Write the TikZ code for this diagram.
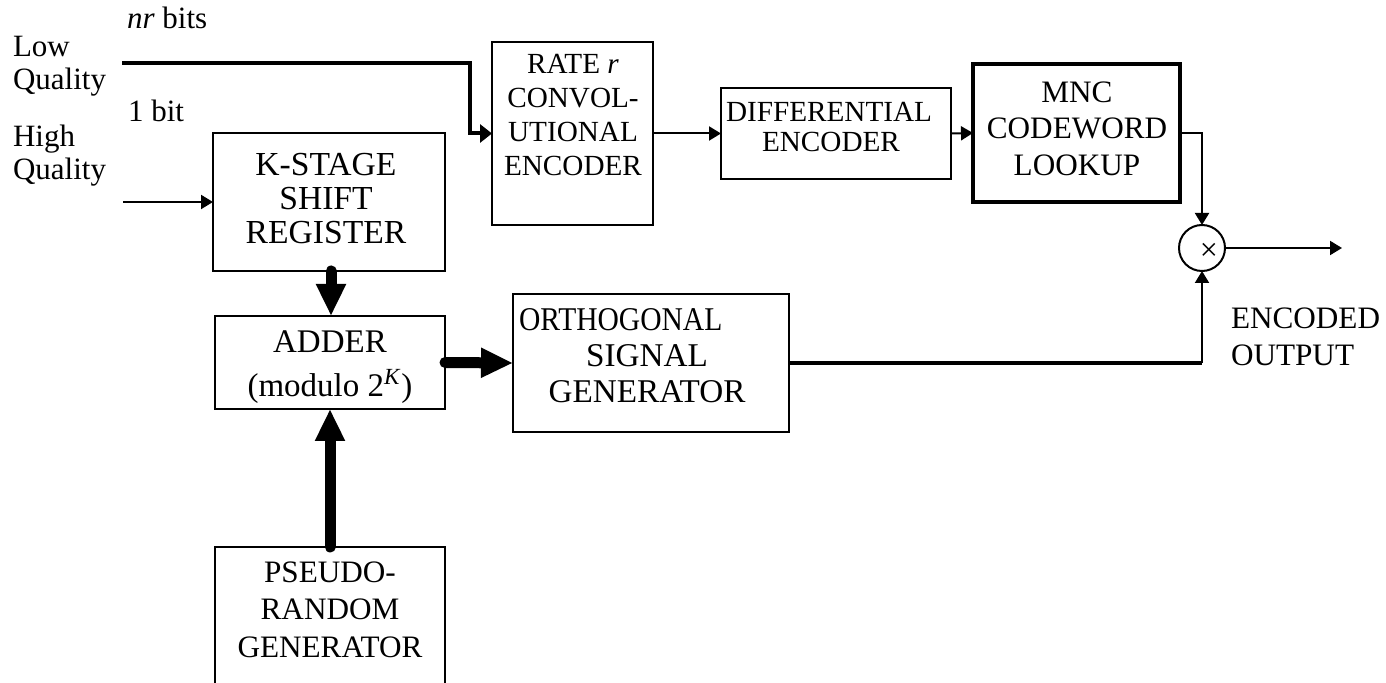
\documentclass[tikz,border=0pt]{standalone}
\usepackage{fontspec}
\setmainfont{Liberation Serif}
\usetikzlibrary{arrows.meta}
\begin{document}
\begin{tikzpicture}[x=0.5pt,y=-0.5pt,
  box/.style={draw, line width=1pt, inner sep=0pt, outer sep=0pt, anchor=north west},
  tl/.style={anchor=base, inner sep=0pt, outer sep=0pt},
  tlw/.style={anchor=base west, inner sep=0pt, outer sep=0pt},
  arr/.style={line width=1pt, -{Triangle[length=6pt,width=7pt]}},
  thk/.style={line width=2pt, -{Triangle[length=6pt,width=9pt]}},
  big/.style={line width=5.5pt, line cap=round, -{Triangle[length=16pt,width=14pt]}},
  fl/.style={font=\fontsize{15.5}{18}\selectfont},
  fk/.style={font=\fontsize{16.8}{18}\selectfont},
  fa/.style={font=\fontsize{16.5}{18}\selectfont},
  fo/.style={font=\fontsize{16.6}{18}\selectfont},
  fp/.style={font=\fontsize{15.6}{18}\selectfont},
  fc/.style={font=\fontsize{14.6}{17}\selectfont},
  fm/.style={font=\fontsize{15.6}{18}\selectfont}]
\useasboundingbox (0,0) rectangle (1386,683);
\clip (0,0) rectangle (1386,683);

% boxes
\node[box, minimum width=116pt, minimum height=69pt] (kst) at (213,133) {};
\node[box, minimum width=115pt, minimum height=46.5pt] (adder) at (215,316) {};
\node[box, minimum width=115pt, minimum height=80pt] (pseudo) at (215,547) {};
\node[box, minimum width=138pt, minimum height=69pt] (ortho) at (513,294) {};
\node[box, minimum width=80.5pt, minimum height=91.5pt] (conv) at (492,42) {};
\node[box, minimum width=115pt, minimum height=45.5pt] (diff) at (721,88) {};
\node[box, line width=2pt, minimum width=103.5pt, minimum height=69pt] (mnc) at (973,64) {};
\node[draw, circle, line width=1pt, minimum size=23pt, inner sep=0pt, outer sep=0pt] (mult) at (1202,248) {};
\node[inner sep=0pt, font=\fontsize{16}{18}\selectfont] (times) at (1209,252) {×};

% input labels
\node[tlw, fl] (nr) at (127,29) {\textit{nr} bits};
\node[tlw, fl] (low) at (13,57) {Low};
\node[tlw, fl] (lq1) at (13,90) {Quality};
\node[tlw, fl] (onebit) at (128,122) {1 bit};
\node[tlw, fl] (high) at (13,147) {High};
\node[tlw, fl] (hq1) at (13,180) {Quality};

% box texts
\node[tl, fk] (k1) at (326,176) {K-STAGE};
\node[tl, fk] (k2) at (326,210) {SHIFT};
\node[tl, fk] (k3) at (326,244) {REGISTER};

\node[tl, fa] (a1) at (330,353) {ADDER};
\node[tl, fa] (a2) at (330,397) {(modulo 2\textsuperscript{\textit{K}})};

\node[tlw, fo] (o1) at (519,331) {\scalebox{0.89}[1]{ORTHOGONAL}};
\node[tl, fo] (o2) at (647,367) {SIGNAL};
\node[tl, fo] (o3) at (647,403) {GENERATOR};

\node[tl, fp] (p1) at (330,582) {PSEUDO-};
\node[tl, fp] (p2) at (330,619) {RANDOM};
\node[tl, fp] (p3) at (330,657) {GENERATOR};

\node[tl, fc] (c1) at (573,74) {RATE \textit{r}};
\node[tl, fc] (c2) at (573,108) {CONVOL-};
\node[tl, fc] (c3) at (573,142) {UTIONAL};
\node[tl, fc] (c4) at (573,176) {ENCODER};

\node[tl, fc] (d1) at (829,122) {DIFFERENTIAL};
\node[tl, fc] (d2) at (831,152) {ENCODER};

\node[tl, fm] (m1) at (1077,103) {MNC};
\node[tl, fm] (m2) at (1077,139) {CODEWORD};
\node[tl, fm] (m3) at (1077,176) {LOOKUP};

\node[tlw, fm] (e1) at (1231,329) {ENCODED};
\node[tlw, fm] (e2) at (1231,366) {OUTPUT};

% connectors
\coordinate (lq) at (122,63);
\coordinate (hq) at (123,202);
\coordinate (out) at (1342,248);
\coordinate (crn) at (ortho.east -| mult.south);

\draw[thk] (lq) -- (470,63) |- (conv.west);
\draw[arr] (hq) -- (hq -| kst.west);
\draw[arr] (conv.east) -- (diff.west);
\draw[arr] (diff.east) -- (mnc.west);
\draw[arr] (mnc.east) -| (mult.north);
\draw[arr] (mult.east) -- (out);
\draw[big] ([xshift=1pt]kst.south) -- ([xshift=1pt]kst.south |- adder.north);
\draw[big] (pseudo.north) -- (adder.south);
\draw[big] (adder.east) -- (ortho.west);
\draw[line width=2pt] (ortho.east) -- (crn);
\draw[arr] (crn) -- (mult.south);
\end{tikzpicture}
\end{document}
